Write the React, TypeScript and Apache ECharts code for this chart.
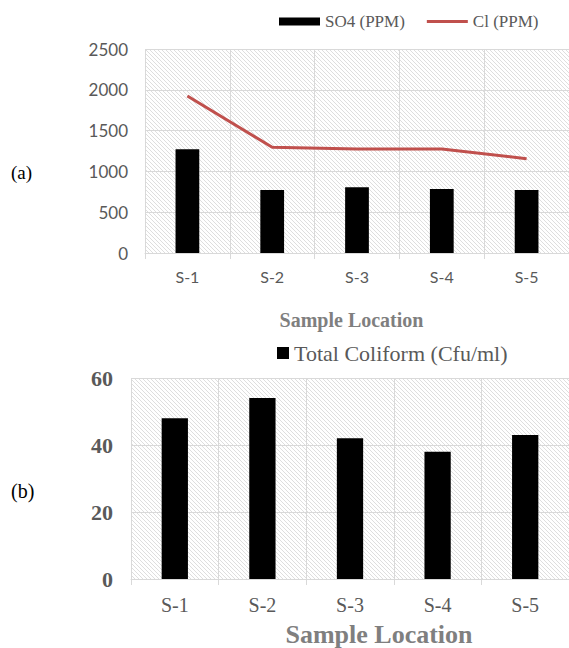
import React, { useEffect, useRef } from "react";
import * as echarts from "echarts";

const categories = ["S-1", "S-2", "S-3", "S-4", "S-5"];
const so4Values = [1270, 772, 805, 784, 772];
const clValues = [1925, 1295, 1275, 1275, 1156];
const coliformValues = [48, 54, 42, 38, 43];
const yTicksA = [0, 500, 1000, 1500, 2000, 2500];
const yTicksB = [0, 20, 40, 60];

function makeHatch() {
  const c = document.createElement("canvas");
  c.width = 4;
  c.height = 4;
  const ctx = c.getContext("2d")!;
  ctx.fillStyle = "#ffffff";
  ctx.fillRect(0, 0, 4, 4);
  ctx.fillStyle = "#dedede";
  for (let i = 0; i < 4; i++) ctx.fillRect(i, i, 1, 1);
  return c;
}

export default function App() {
  const ref = useRef<HTMLDivElement>(null);
  useEffect(() => {
    if (!ref.current) return;
    const chart = echarts.init(ref.current, undefined, { renderer: "svg" });
    const hatch = {
      image: makeHatch(),
      repeat: "repeat",
      imageWidth: 4,
      imageHeight: 4,
    } as any;
    const grid = "#d9d9d9";
    const serif = "'Liberation Serif', 'Times New Roman', serif";
    const sans = "Lato, 'Liberation Sans', sans-serif";
    chart.setOption({
      animation: false,
      backgroundColor: "#ffffff",
      grid: [
        { left: 145, right: -5, top: 49, height: 204, show: true, backgroundColor: hatch, borderWidth: 0 },
        { left: 131, right: -5, top: 378, height: 201, show: true, backgroundColor: hatch, borderWidth: 0 },
      ],
      legend: [
        {
          left: 274,
          top: 8,
          itemGap: 22,
          itemWidth: 41,
          itemHeight: 8,
          textStyle: { fontFamily: serif, fontSize: 17, color: "#595959" },
          data: [
            { name: "SO4 (PPM)", icon: "rect" },
            { name: "Cl (PPM)", icon: "path://M0,0h41v3H0z" },
          ],
        },
        {
          left: 272,
          top: 337,
          itemWidth: 12,
          itemHeight: 12,
          itemGap: 5,
          textStyle: { fontFamily: serif, fontSize: 22, color: "#595959" },
          data: [{ name: "Total Coliform (Cfu/ml)", icon: "rect" }],
        },
      ],
      xAxis: [
        {
          type: "category",
          gridIndex: 0,
          data: categories,
          boundaryGap: true,
          axisLine: { lineStyle: { color: grid } },
          axisTick: { show: true, length: 6, lineStyle: { color: grid } },
          splitLine: { show: true, lineStyle: { color: grid } },
          axisLabel: { fontFamily: sans, fontSize: 16, color: "#595959", margin: 15 },
          name: "Sample Location",
          nameLocation: "middle",
          nameGap: 57,
          nameTextStyle: { fontFamily: serif, fontSize: 20, fontWeight: "bold", color: "#7f7f7f", padding: [0, 11, 0, 0] },
        },
        {
          type: "category",
          gridIndex: 1,
          data: categories,
          boundaryGap: true,
          axisLine: { lineStyle: { color: grid } },
          axisTick: { show: true, length: 6, lineStyle: { color: grid } },
          splitLine: { show: true, lineStyle: { color: grid } },
          axisLabel: { fontFamily: serif, fontSize: 20, color: "#595959", margin: 16 },
          name: "Sample Location",
          nameLocation: "middle",
          nameGap: 42,
          nameTextStyle: { fontFamily: serif, fontSize: 26, fontWeight: "bold", color: "#7f7f7f", padding: [0, 0, 0, 58] },
        },
      ],
      yAxis: [
        {
          type: "value",
          gridIndex: 0,
          min: yTicksA[0],
          max: yTicksA[yTicksA.length - 1],
          interval: 500,
          axisLine: { show: false },
          axisTick: { show: false },
          splitLine: { lineStyle: { color: grid } },
          axisLabel: {
            fontFamily: sans,
            fontSize: 17,
            color: "#595959",
            margin: 17,
            formatter: (v: number) => String(v),
          },
        },
        {
          type: "value",
          gridIndex: 1,
          min: yTicksB[0],
          max: yTicksB[yTicksB.length - 1],
          interval: 20,
          axisLine: { show: false },
          axisTick: { show: false },
          splitLine: { lineStyle: { color: grid } },
          axisLabel: {
            fontFamily: serif,
            fontSize: 22,
            fontWeight: "bold",
            color: "#595959",
            margin: 18,
            formatter: (v: number) => String(v),
          },
        },
      ],
      series: [
        {
          name: "SO4 (PPM)",
          type: "bar",
          xAxisIndex: 0,
          yAxisIndex: 0,
          data: so4Values,
          barWidth: "28%",
          itemStyle: { color: "#000000" },
        },
        {
          name: "Cl (PPM)",
          type: "line",
          xAxisIndex: 0,
          yAxisIndex: 0,
          data: clValues,
          symbol: "none",
          lineStyle: { color: "#c0504d", width: 3 },
          itemStyle: { color: "#c0504d" },
        },
        {
          name: "Total Coliform (Cfu/ml)",
          type: "bar",
          xAxisIndex: 1,
          yAxisIndex: 1,
          data: coliformValues,
          barWidth: "30%",
          itemStyle: { color: "#000000" },
        },
      ],
      graphic: [
        { type: "text", left: 11, top: 163, style: { text: "(a)", fontFamily: serif, fontSize: 19, fill: "#000000" } },
        { type: "text", left: 11, top: 481, style: { text: "(b)", fontFamily: serif, fontSize: 20, fill: "#000000" } },
      ],
    });
    return () => chart.dispose();
  }, []);
  return (
    <div
      ref={ref}
      style={{ position: "absolute", left: 0, top: 0, width: 569, height: 648 }}
    />
  );
}
